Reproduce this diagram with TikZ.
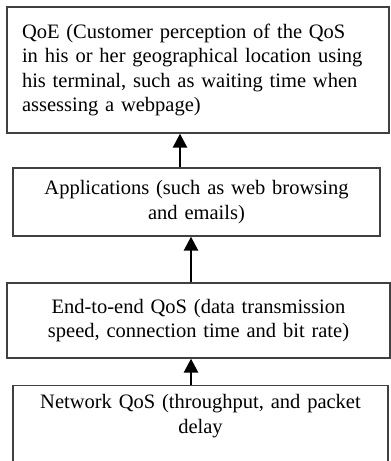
\documentclass[tikz,border=0pt]{standalone}
\usepackage{fontspec}
\setmainfont{Liberation Serif}
\usetikzlibrary{arrows.meta}

\begin{document}
\begin{tikzpicture}[x=1pt, y=-1pt,
	layer/.style={draw=black!75, line width=1.3pt, inner sep=0pt, font=\fontsize{20.5}{24.5}\selectfont},
	upflow/.style={draw=black, line width=2.6pt, -{Triangle[width=14pt, length=14pt]}}]
	\clip (0,0) rectangle (391,461);
	
	\node[layer, minimum width=382pt, minimum height=126pt, text width=352pt, align=left] (qoe) at (198,70)
		{QoE (Customer perception of the QoS\\in his or her geographical location using\\his terminal, such as waiting time when\\assessing a webpage)};
	\node[layer, minimum width=367pt, minimum height=68pt, text width=360pt, align=center] (app) at (196.5,202)
		{Applications (such as web browsing\\and emails)};
	\node[layer, minimum width=383pt, minimum height=75pt, text width=370pt, align=center] (e2e) at (198.5,320.5)
		{End-to-end QoS (data transmission\\speed, connection time and bit rate)};
	\node[layer, minimum width=375pt, text width=370pt, align=center, text height=23pt, text depth=70pt, anchor=north] (net) at (200.5,385)
		{Network QoS (throughput, and packet\\delay};
	
	\draw[upflow] ([xshift=-16.5pt]app.north) -- ([xshift=-16.5pt]app.north |- qoe.south);
	\draw[upflow] ([xshift=-7.5pt]e2e.north) -- ([xshift=-7.5pt]e2e.north |- app.south);
	\draw[upflow] ([xshift=-9.5pt]net.north) -- ([xshift=-9.5pt]net.north |- e2e.south);
\end{tikzpicture}
\end{document}
